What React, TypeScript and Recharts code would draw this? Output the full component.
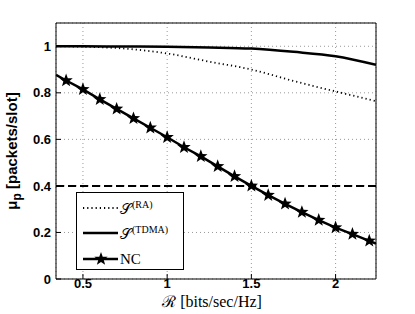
import { LineChart, Line, XAxis, YAxis, CartesianGrid, ReferenceLine, ReferenceArea, Legend, Label } from 'recharts';

// rate axis samples for the two smooth curves
const rateGrid = [0.34, 0.5, 0.75, 1, 1.25, 1.5, 1.75, 2, 2.24];
const muRA = [1, 0.998, 0.99, 0.969, 0.934, 0.9, 0.851, 0.806, 0.764];
const muTDMA = [1, 1, 0.999, 0.998, 0.995, 0.99, 0.976, 0.957, 0.92];

// NC curve (stars at 0.4 .. 2.2)
const rateNC = [0.34, 0.4, 0.5, 0.6, 0.7, 0.8, 0.9, 1, 1.1, 1.2, 1.3, 1.4, 1.5, 1.6, 1.7, 1.8, 1.9, 2, 2.1, 2.2, 2.24];
const muNC = [0.877, 0.853, 0.815, 0.772, 0.731, 0.69, 0.65, 0.609, 0.566, 0.527, 0.484, 0.441, 0.4, 0.36, 0.323, 0.287, 0.253, 0.221, 0.193, 0.164, 0.152];

const threshold = 0.4;
const xTicks = [0.5, 1, 1.5, 2];
const yTicks = [0, 0.2, 0.4, 0.6, 0.8, 1];

const toRows = (xs: number[], ys: number[]) => xs.map((x, i) => ({ x, y: ys[i] }));

const sans = '"Liberation Sans", Arial, sans-serif';
const serif = '"Liberation Serif", "DejaVu Serif", serif';

function starPoints(cx: number, cy: number, R: number, r: number) {
  const pts: string[] = [];
  for (let i = 0; i < 10; i++) {
    const a = -Math.PI / 2 + (i * Math.PI) / 5;
    const rad = i % 2 === 0 ? R : r;
    pts.push(`${cx + rad * Math.cos(a)},${cy + rad * Math.sin(a)}`);
  }
  return pts.join(' ');
}

const StarDot = (props: any) => {
  const { cx, cy, index } = props;
  if (index === 0 || index === rateNC.length - 1) return <g key={`s${index}`} />;
  return <polygon key={`s${index}`} points={starPoints(cx, cy, 7, 2.9)} fill="#000" />;
};

const LegendBox = () => {
  const row = (sample: any, label: any, top: number) => (
    <div style={{ position: 'absolute', left: 0, top: top - 10, height: 20, display: 'flex', alignItems: 'center' }}>
      <svg width={43} height={20} style={{ display: 'block' }}>{sample}</svg>
      <span style={{ fontFamily: serif, fontSize: 15, color: '#000', whiteSpace: 'nowrap' }}>{label}</span>
    </div>
  );
  return (
    <div style={{ position: 'relative', width: 108, height: 78, boxSizing: 'border-box', border: '1px solid #000', background: '#fff' }}>
      {row(<line x1={6} y1={10} x2={41} y2={10} stroke="#000" strokeWidth={1.8} strokeDasharray="1.2 3" />,
        <>𝒮<sup style={{ fontSize: 10 }}>(RA)</sup></>, 15)}
      {row(<line x1={6} y1={10} x2={41} y2={10} stroke="#000" strokeWidth={2.5} />,
        <>𝒮<sup style={{ fontSize: 10 }}>(TDMA)</sup></>, 40)}
      {row(<><line x1={6} y1={10} x2={41} y2={10} stroke="#000" strokeWidth={2.5} /><polygon points={starPoints(24, 10, 7, 2.9)} fill="#000" /></>,
        <>NC</>, 66)}
    </div>
  );
};

export default function App() {
  return (
    <div style={{ position: 'absolute', left: 0, top: 0, background: '#fff' }}>
      <LineChart width={415} height={314} margin={{ top: 23, right: 39, bottom: 0, left: 0 }}>
        <CartesianGrid stroke="#999" strokeDasharray="1 3" />
        <XAxis type="number" dataKey="x" domain={[0.34, 2.24]} ticks={xTicks} allowDataOverflow
          height={35} tickSize={-5} tickMargin={5} axisLine={false} tickLine={{ stroke: '#000' }}
          tick={{ fill: '#000', fontFamily: sans, fontWeight: 'bold', fontSize: 13 }}>
          <Label content={() => (
            <text x={212} y={307} textAnchor="middle" fontFamily={serif} fontSize={16} fill="#000">ℛ [bits/sec/Hz]</text>
          )} />
        </XAxis>
        <YAxis type="number" domain={[0, 1.1]} ticks={yTicks} allowDataOverflow
          width={56} tickSize={-5} tickMargin={10} axisLine={false} tickLine={{ stroke: '#000' }}
          tick={{ fill: '#000', fontFamily: sans, fontWeight: 'bold', fontSize: 13 }}>
          <Label content={() => (
            <text transform="translate(17,151) rotate(-90)" textAnchor="middle" fontFamily={sans} fontWeight="bold" fontSize={15} fill="#000">
              μ<tspan fontSize={12} dy={4}>p</tspan><tspan dy={-4}> [packets/slot]</tspan>
            </text>
          )} />
        </YAxis>
        <ReferenceArea x1={0.34} x2={2.24} y1={0} y2={1.1} fill="none" stroke="#000" strokeWidth={1} ifOverflow="visible" />
        <ReferenceLine y={threshold} stroke="#000" strokeWidth={2} strokeDasharray="8 4" />
        <Line data={toRows(rateGrid, muRA)} dataKey="y" type="monotone" stroke="#000" strokeWidth={1.8} strokeDasharray="1.2 3" dot={false} isAnimationActive={false} />
        <Line data={toRows(rateGrid, muTDMA)} dataKey="y" type="monotone" stroke="#000" strokeWidth={2.5} dot={false} isAnimationActive={false} />
        <Line data={toRows(rateNC, muNC)} dataKey="y" type="linear" stroke="#000" strokeWidth={2.5} dot={StarDot} isAnimationActive={false} />
        <Legend content={() => <LegendBox />} layout="vertical" align="center" verticalAlign="middle"
          wrapperStyle={{ position: 'absolute', left: 76, top: 192, width: 108, height: 78 }} />
      </LineChart>
    </div>
  );
}
